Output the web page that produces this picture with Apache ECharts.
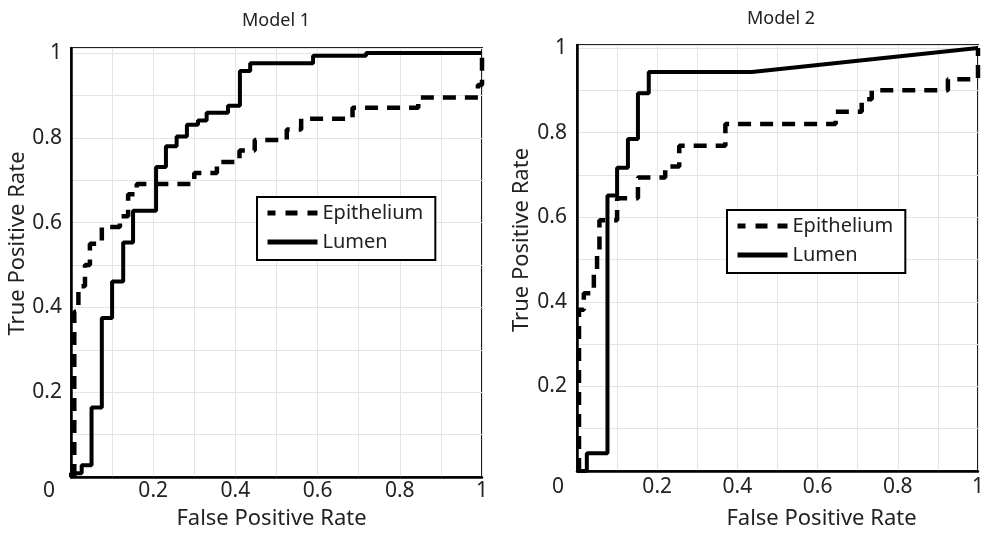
<!DOCTYPE html>
<html><head><meta charset="utf-8">
<script src="https://cdn.jsdelivr.net/npm/echarts@6/dist/echarts.min.js"></script>
<style>html,body{margin:0;padding:0;background:#fff}#c{width:987px;height:535px}</style>
</head><body><div id="c"></div>
<script>
const titles = ['Model 1', 'Model 2'];
const seriesNames = ['Epithelium', 'Lumen'];
const xAxisName = 'False Positive Rate';
const yAxisName = 'True Positive Rate';
const tickValues = [0.2, 0.4, 0.6, 0.8, 1];
const tickLabels = ['0.2', '0.4', '0.6', '0.8', '1'];
const originLabel = '0';

// ROC curve vertices [FPR, TPR]
const m1Epithelium = [[0.008,0],[0.008,0.39],[0.018,0.39],[0.018,0.45],[0.034,0.45],[0.034,0.50],[0.046,0.50],[0.046,0.55],[0.075,0.55],[0.075,0.59],[0.119,0.59],[0.119,0.615],[0.139,0.615],[0.139,0.667],[0.16,0.667],[0.16,0.691],[0.30,0.691],[0.30,0.717],[0.355,0.717],[0.355,0.743],[0.41,0.743],[0.41,0.770],[0.447,0.770],[0.447,0.795],[0.525,0.795],[0.525,0.820],[0.56,0.820],[0.56,0.845],[0.685,0.845],[0.685,0.871],[0.845,0.871],[0.845,0.895],[0.99,0.895],[0.99,0.925],[1,0.925],[1,1]];
const m1Lumen = [[0,0],[0,0.009],[0.026,0.009],[0.026,0.028],[0.05,0.028],[0.05,0.164],[0.075,0.164],[0.075,0.375],[0.10,0.375],[0.10,0.461],[0.127,0.461],[0.127,0.553],[0.151,0.553],[0.151,0.628],[0.207,0.628],[0.207,0.731],[0.231,0.731],[0.231,0.780],[0.257,0.780],[0.257,0.803],[0.282,0.803],[0.282,0.831],[0.309,0.831],[0.309,0.841],[0.33,0.841],[0.33,0.859],[0.382,0.859],[0.382,0.876],[0.411,0.876],[0.411,0.958],[0.436,0.958],[0.436,0.976],[0.589,0.976],[0.589,0.994],[0.718,0.994],[0.718,1.0],[1,1.0]];
const m2Epithelium = [[0.005,0],[0.005,0.381],[0.017,0.381],[0.017,0.42],[0.042,0.42],[0.042,0.47],[0.05,0.47],[0.05,0.51],[0.056,0.51],[0.056,0.593],[0.10,0.593],[0.10,0.645],[0.152,0.645],[0.152,0.694],[0.22,0.694],[0.22,0.720],[0.255,0.720],[0.255,0.769],[0.37,0.769],[0.37,0.820],[0.645,0.820],[0.645,0.849],[0.71,0.849],[0.71,0.879],[0.735,0.879],[0.735,0.900],[0.925,0.900],[0.925,0.926],[1,0.926],[1,1]];
const m2Lumen = [[0,0],[0.0245,0],[0.0245,0.042],[0.076,0.042],[0.076,0.651],[0.10,0.651],[0.10,0.717],[0.127,0.717],[0.127,0.785],[0.152,0.785],[0.152,0.893],[0.179,0.893],[0.179,0.943],[0.436,0.943],[1,1]];

const FONT = '"Noto Sans", "Open Sans", sans-serif';
const TXT = '#222';

function labelFor(v) {
  for (let i = 0; i < tickValues.length; i++) if (Math.abs(v - tickValues[i]) < 1e-6) return tickLabels[i];
  return '';
}

const layout = [
  { left: 71, top: 48, width: 411, height: 432, ymax: 1.012, xLabMargin: 4, zeroPad: 44, xNameGap: 31, xNamePad: [0, 10, 0, 0], yLabMargin: 9, yNameGap: 40, yNamePad: [0, 0, 0, 38], titleX: 276, titleY: 12, legLeft: 257, legTop: 197 },
  { left: 577, top: 45, width: 408, height: 429, ymax: 1.007, xLabMargin: 6, zeroPad: 38, xNameGap: 37, xNamePad: [0, 0, 0, 88], yLabMargin: 10, yNameGap: 44, yNamePad: [0, 0, 0, 36], titleX: 781, titleY: 10, legLeft: 727, legTop: 210 }
];
const curves = [[m1Epithelium, m1Lumen], [m2Epithelium, m2Lumen]];

const option = {
  animation: false,
  backgroundColor: '#fff',
  title: layout.map((L, i) => ({
    text: titles[i], left: L.titleX, top: L.titleY, textAlign: 'center', padding: 0,
    textStyle: { fontSize: 18, fontWeight: 'normal', color: TXT, fontFamily: FONT }
  })),
  grid: layout.map(L => ({
    left: L.left, top: L.top, width: L.width, height: L.height,
    show: true, borderColor: '#222', borderWidth: 2, backgroundColor: 'transparent'
  })),
  xAxis: layout.map((L, i) => ({
    gridIndex: i, type: 'value', min: 0, max: 1, interval: 0.1,
    axisLine: { show: true, onZero: false, lineStyle: { color: '#000', width: 2.5 } },
    axisTick: { show: false },
    splitLine: { show: true, lineStyle: { color: '#e4e4e4', width: 1 } },
    axisLabel: {
      margin: L.xLabMargin, fontSize: 21, color: TXT, fontFamily: FONT,
      formatter: v => Math.abs(v) < 1e-9 ? '{z|' + originLabel + '}' : labelFor(v),
      rich: { z: { fontSize: 21, color: TXT, fontFamily: FONT, padding: [0, L.zeroPad, 0, 0] } }
    },
    name: xAxisName, nameLocation: 'middle', nameGap: L.xNameGap,
    nameTextStyle: { fontSize: 22, color: TXT, fontFamily: FONT, padding: L.xNamePad }
  })),
  yAxis: layout.map((L, i) => ({
    gridIndex: i, type: 'value', min: 0, max: L.ymax, interval: 0.1,
    axisLine: { show: true, onZero: false, lineStyle: { color: '#000', width: 2.5 } },
    axisTick: { show: false },
    splitLine: { show: true, lineStyle: { color: '#e4e4e4', width: 1 } },
    axisLabel: { margin: L.yLabMargin, fontSize: 21, color: TXT, fontFamily: FONT, padding: [6, 0, 0, 0], formatter: v => labelFor(v) },
    name: yAxisName, nameLocation: 'middle', nameGap: L.yNameGap,
    nameTextStyle: { fontSize: 22, color: TXT, fontFamily: FONT, padding: L.yNamePad }
  })),
  legend: layout.map((L, i) => ({
    left: L.legLeft, top: L.legTop, orient: 'vertical',
    data: [
      { name: seriesNames[0], lineStyle: { type: [12, 10], dashOffset: 4, width: 5, color: '#000' } },
      { name: seriesNames[1], lineStyle: { type: 'solid', width: 5, color: '#000' } }
    ],
    itemWidth: 50, itemHeight: 20, itemGap: 9,
    itemStyle: { opacity: 0, borderWidth: 0 },
    padding: [6, 12, 8, 8], borderColor: '#000', borderWidth: 2, borderRadius: 0,
    backgroundColor: '#fff', selectedMode: false,
    textStyle: { fontSize: 20, color: TXT, fontFamily: FONT }
  })),
  series: []
};

curves.forEach((pair, i) => {
  option.series.push({
    type: 'line', name: seriesNames[0], xAxisIndex: i, yAxisIndex: i, data: pair[0],
    symbol: 'none', showSymbol: false, silent: true, z: 3,
    lineStyle: { color: '#000', width: 4.5, type: [13, 9] }, itemStyle: { color: '#000' }
  });
  option.series.push({
    type: 'line', name: seriesNames[1], xAxisIndex: i, yAxisIndex: i, data: pair[1],
    symbol: 'none', showSymbol: false, silent: true, z: 4,
    lineStyle: { color: '#000', width: 4 }, itemStyle: { color: '#000' }
  });
});

const chart = echarts.init(document.getElementById('c'), null, { renderer: 'canvas' });
chart.setOption(option);
</script>
</body></html>
